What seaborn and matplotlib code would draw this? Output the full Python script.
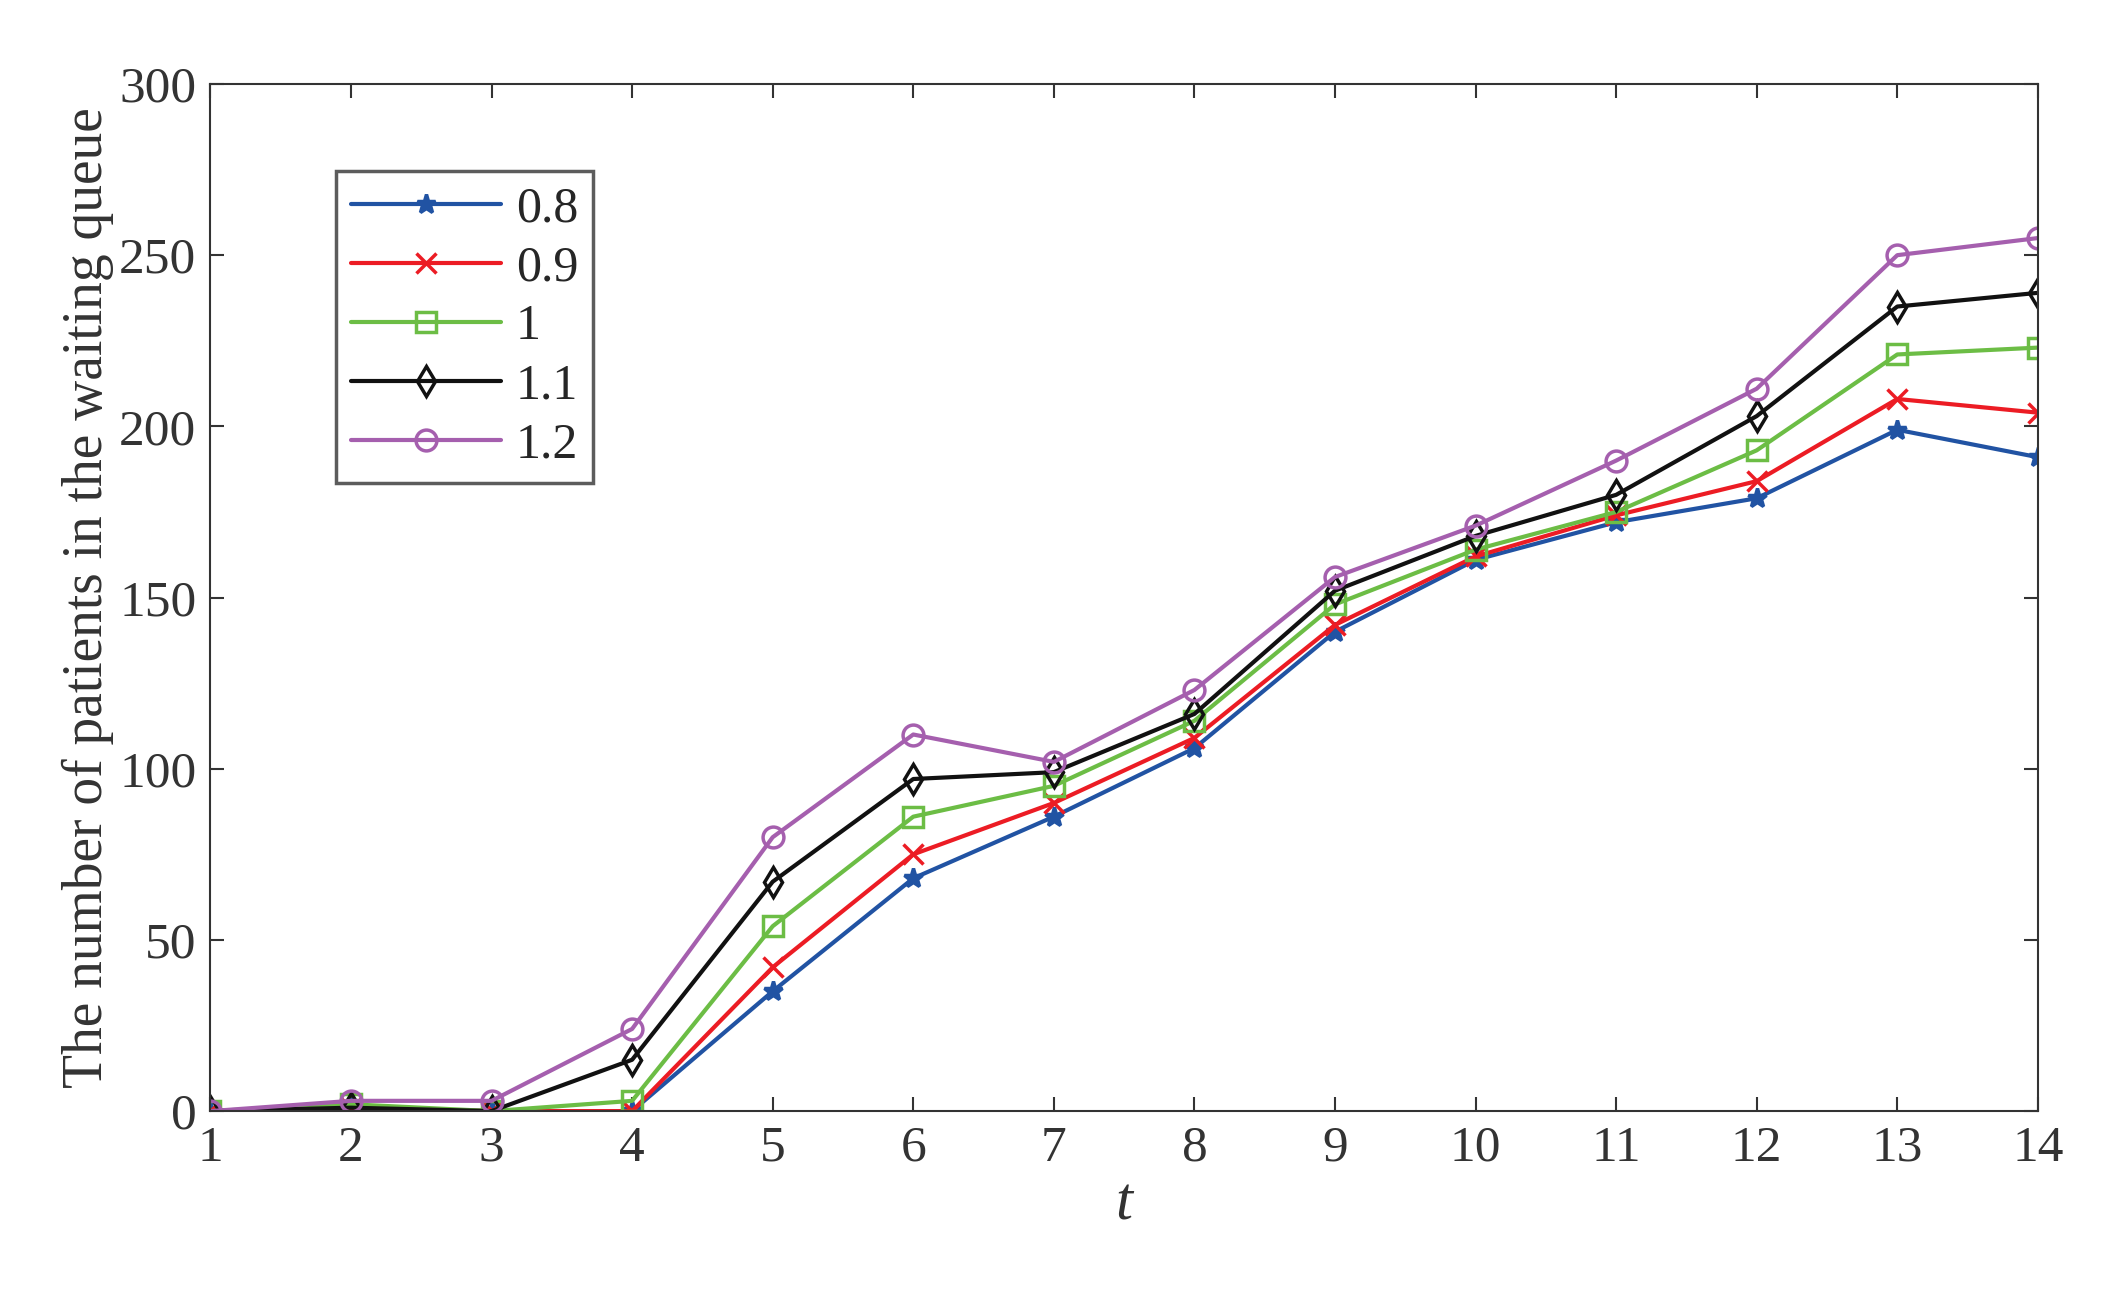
import matplotlib
matplotlib.use("Agg")
import matplotlib.pyplot as plt
import seaborn as sns
import pandas as pd

t = list(range(1, 15))
labels = ["0.8", "0.9", "1", "1.1", "1.2"]
s08 = [0, 1, 0, 0, 35, 68, 86, 106, 140, 161, 172, 179, 199, 191]
s09 = [0, 1, 0, 0, 42, 75, 90, 109, 142, 162, 174, 184, 208, 204]
s10 = [0, 2, 0, 3, 54, 86, 95, 114, 148, 164, 175, 193, 221, 223]
s11 = [0, 1, 0, 15, 67, 97, 99, 116, 152, 168, 180, 203, 235, 239]
s12 = [0, 3, 3, 24, 80, 110, 102, 123, 156, 171, 190, 211, 250, 255]
series = [s08, s09, s10, s11, s12]
colors = ["#2153a3", "#ec1c24", "#6cbd45", "#111111", "#a55fae"]
markers = ["*", "x", "s", "d", "o"]

sns.set_theme(style="white")
plt.rcParams['font.family'] = ['Liberation Serif', 'DejaVu Serif']
fig = plt.figure(figsize=(21.25, 12.92), dpi=100)
ax = fig.add_axes([0.099, 0.14, 0.86, 0.795])

df = pd.DataFrame({"t": t * 5,
                   "v": sum(series, []),
                   "k": sum([[l] * 14 for l in labels], [])})
for lab, c, m in zip(labels, colors, markers):
    d = df[df.k == lab]
    sns.lineplot(data=d, x="t", y="v", ax=ax, color=c, marker=m, lw=3,
                 markersize=15 if m != "*" else 14, markerfacecolor="none" if m in "sdo" else c,
                 markeredgecolor=c, markeredgewidth=2.5, label=lab)

ax.set_xlim(1, 14)
ax.set_ylim(0, 300)
ax.set_xticks(t)
ax.set_yticks(range(0, 301, 50))
ax.tick_params(direction="in", length=10, width=1.5, labelsize=37, colors="#333333",
               top=True, right=True, bottom=True, left=True, pad=10)
for sp in ax.spines.values():
    sp.set_color("#333333"); sp.set_linewidth(1.5)
ax.set_xlabel("t", fontsize=44, style="italic", color="#333333", labelpad=4)
ax.set_ylabel("The number of patients in the waiting queue", fontsize=40, color="#333333")
leg = ax.legend(loc="upper left", bbox_to_anchor=(0.055, 0.94), fontsize=36,
                frameon=True, fancybox=False, edgecolor="#333333", handlelength=3,
                labelspacing=0.25, borderpad=0.3, handletextpad=0.3)
leg.get_frame().set_linewidth(2.5)
fig.savefig("out.png", dpi=100)
